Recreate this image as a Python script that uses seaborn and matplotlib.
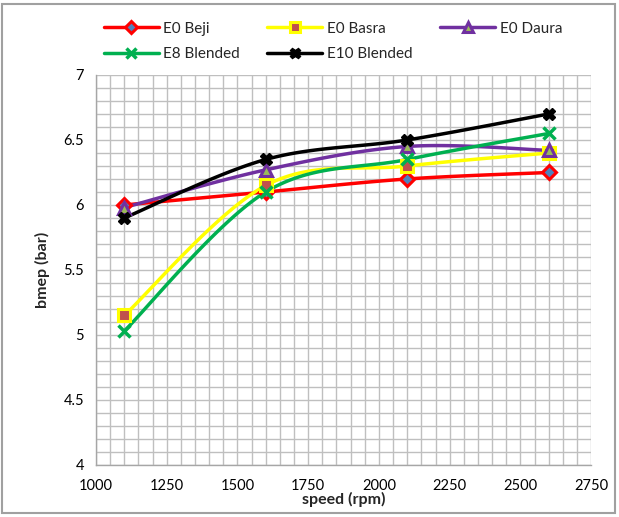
import numpy as np
import pandas as pd
import matplotlib
matplotlib.use("Agg")
import matplotlib.pyplot as plt
import seaborn as sns
from matplotlib.lines import Line2D
from matplotlib.patches import Rectangle

speed = [1100, 1600, 2100, 2600]
e0_beji = [6.0, 6.1, 6.2, 6.25]
e0_basra = [5.15, 6.15, 6.3, 6.4]
e0_daura = [5.98, 6.27, 6.45, 6.42]
e8_blended = [5.03, 6.1, 6.35, 6.55]
e10_blended = [5.9, 6.35, 6.5, 6.7]
series_names = ["E0 Beji", "E0 Basra", "E0 Daura", "E8 Blended", "E10 Blended"]
x_ticks = [1000, 1250, 1500, 1750, 2000, 2250, 2500, 2750]
y_ticks = [4, 4.5, 5, 5.5, 6, 6.5, 7]

sns.set_theme(style="white")
plt.rcParams['font.family'] = ['Lato', 'DejaVu Sans']

styles = {
    "E0 Beji": dict(color="#FF0000", marker="D", mfc="#4F81BD", mec="#FF0000", ms=7, mew=2.2),
    "E0 Basra": dict(color="#FFFF00", marker="s", mfc="#C0504D", mec="#FFFF00", ms=8, mew=2.2),
    "E0 Daura": dict(color="#7030A0", marker="^", mfc="#9BBB59", mec="#7030A0", ms=9, mew=2.2),
    "E8 Blended": dict(color="#00B050", marker="x", mfc="#00B050", mec="#00B050", ms=9, mew=2.5),
    "E10 Blended": dict(color="#000000", marker="X", mfc="#000000", mec="#000000", ms=9, mew=1.0),
}
data = dict(zip(series_names, [e0_beji, e0_basra, e0_daura, e8_blended, e10_blended]))


def smooth(xs, ys, n=40):
    xs = np.asarray(xs, float); ys = np.asarray(ys, float)
    P = np.column_stack([xs, ys])
    out = []
    for i in range(len(P) - 1):
        p0 = P[i - 1] if i > 0 else P[i]
        p1 = P[i]
        p2 = P[i + 1]
        p3 = P[i + 2] if i + 2 < len(P) else P[i + 1]
        c1 = p1 + (p2 - p0) / 6.0
        c2 = p2 - (p3 - p1) / 6.0
        t = np.linspace(0, 1, n)[:, None]
        seg = (1 - t) ** 3 * p1 + 3 * (1 - t) ** 2 * t * c1 + 3 * (1 - t) * t ** 2 * c2 + t ** 3 * p2
        out.append(seg if i == 0 else seg[1:])
    return np.vstack(out)


fig = plt.figure(figsize=(6.19, 5.17), dpi=100)
ax = fig.add_axes([0.155, 0.1006, 0.80, 0.7544])

for name in series_names:
    st = styles[name]
    curve = smooth(speed, data[name])
    df = pd.DataFrame({"x": curve[:, 0], "y": curve[:, 1]})
    sns.lineplot(data=df, x="x", y="y", ax=ax, color=st["color"], lw=2.5, sort=False, estimator=None, zorder=3)
for name in series_names:
    st = styles[name]
    ax.plot(speed, data[name], ls="none", marker=st["marker"], ms=st["ms"], mfc=st["mfc"],
            mec=st["mec"], mew=st["mew"], zorder=4)

ax.set_xlim(1000, 2750)
ax.set_ylim(4, 7)
ax.set_xticks(x_ticks)
ax.set_yticks(y_ticks)
ax.set_xticklabels([str(v) for v in x_ticks])
ax.set_yticklabels(["4", "4.5", "5", "5.5", "6", "6.5", "7"])
ax.set_xticks(np.arange(1000, 2751, 50), minor=True)
ax.set_yticks(np.arange(4, 7.001, 0.1), minor=True)
ax.grid(True, which="both", color="#BFBFBF", lw=1.0)
ax.set_axisbelow(True)
for s in ["top", "right"]:
    ax.spines[s].set_visible(False)
for s in ["left", "bottom"]:
    ax.spines[s].set_color("#A6A6A6")
    ax.spines[s].set_linewidth(1.0)
ax.tick_params(axis="both", which="major", direction="out", length=5, color="#A6A6A6",
               labelsize=10.5, colors="#000000")
ax.tick_params(axis="both", which="minor", length=0)
ax.tick_params(axis="x", pad=5)
ax.set_xlabel("speed (rpm)", fontsize=11.5, fontweight="bold", labelpad=-1)
ax.set_ylabel("bmep (bar)", fontsize=11.5, fontweight="bold", labelpad=10)

order = ["E0 Beji", "E8 Blended", "E0 Basra", "E10 Blended", "E0 Daura"]
handles = []
for name in order:
    st = styles[name]
    handles.append(Line2D([], [], color=st["color"], lw=2.5, marker=st["marker"], ms=st["ms"] * 0.85,
                          mfc=st["mfc"], mec=st["mec"], mew=st["mew"]))
fig.legend(handles, order, loc="upper left", bbox_to_anchor=(0.145, 0.985), ncol=3,
           frameon=False, fontsize=11, handlelength=3.6, columnspacing=1.8, handletextpad=0.3,
           labelspacing=0.75)

fig.patches.append(Rectangle((0.003, 0.008), 0.99, 0.985, transform=fig.transFigure,
                             fill=False, edgecolor="#A0A0A0", lw=1.5))

fig.savefig("out.png", dpi=100)
